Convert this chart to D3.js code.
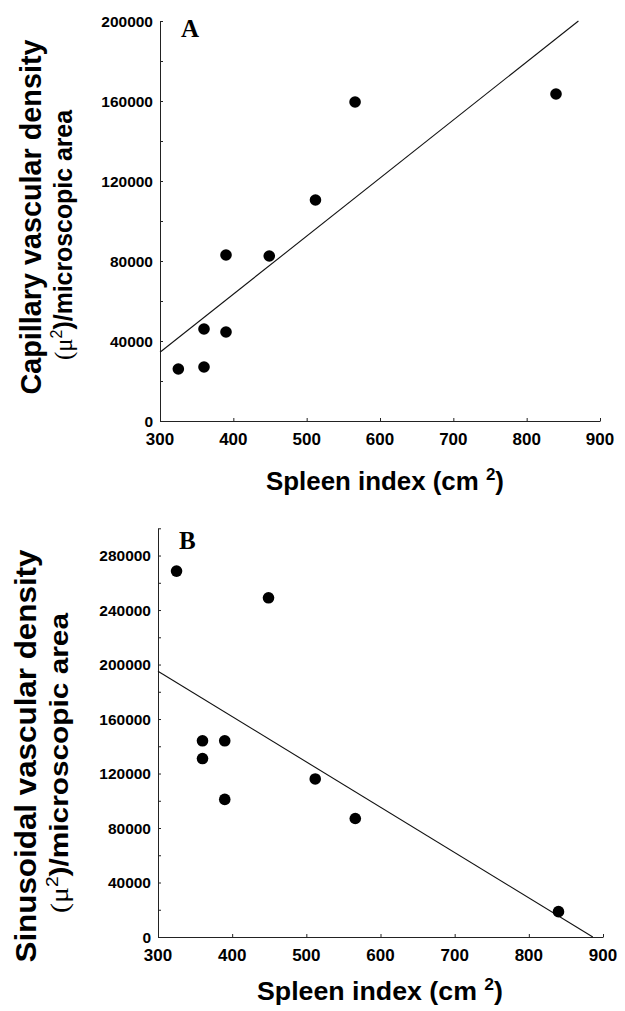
<!DOCTYPE html>
<html>
<head>
<meta charset="utf-8">
<script src="https://cdnjs.cloudflare.com/ajax/libs/d3/7.8.5/d3.min.js"></script>
<style>
  body { margin: 0; background: #fff; }
  svg text { font-family: "Liberation Sans", Arial, sans-serif; font-weight: bold; fill: #000; }
</style>
</head>
<body>
<div id="chart"></div>
<script>
// same nine patients in both panels
var spleenIndex = [325, 360, 360, 390, 390, 449, 512, 566, 840];
var capillaryDensity = [26000, 27000, 46000, 44500, 83000, 82500, 110500, 159500, 163500];
var sinusoidalDensity = [268600, 131000, 144000, 101000, 144000, 249000, 116000, 87000, 18600];

var xTicks = [300, 400, 500, 600, 700, 800, 900];
var capTicks = [0, 40000, 80000, 120000, 160000, 200000];
var sinTicks = [0, 40000, 80000, 120000, 160000, 200000, 240000, 280000];

var W = 625, H = 1011;
var svg = d3.select("#chart").append("svg").attr("width", W).attr("height", H);

function fitLine(xs, ys) {
  var mx = d3.mean(xs), my = d3.mean(ys);
  var sxy = d3.sum(xs, function(d, i){ return (d - mx) * (ys[i] - my); });
  var sxx = d3.sum(xs, function(d){ return (d - mx) * (d - mx); });
  var b = sxy / sxx;
  return { slope: b, icpt: my - b * mx };
}

// clip the fitted line to the plot box
function clipLine(fit, xd, yd) {
  var x0 = xd[0], x1 = xd[1];
  var f = function(x){ return fit.icpt + fit.slope * x; };
  var xa = x0, xb = x1;
  [yd[0], yd[1]].forEach(function(yv){
    var xc = (yv - fit.icpt) / fit.slope;
    if (xc > x0 && xc < x1) {
      if (f(x0) < yd[0] || f(x0) > yd[1]) xa = Math.max(xa, xc); else xb = Math.min(xb, xc);
    }
  });
  return [[xa, f(xa)], [xb, f(xb)]];
}

function panel(opt) {
  var g = svg.append("g");
  var x = d3.scaleLinear().domain([300, 900]).range(opt.xr);
  var y = d3.scaleLinear().domain(opt.yd).range(opt.yr);

  // y axis: line + inward ticks (major labelled, minor between)
  var yAx = d3.axisRight(y).tickValues(d3.range(0, opt.yd[1] + 1, 20000))
    .tickSize(3).tickSizeOuter(0).tickFormat("");
  g.append("g").attr("transform", "translate(" + opt.xr[0] + ",0)").call(yAx)
    .call(function(s){ s.selectAll("path, line").attr("stroke", "#222").attr("stroke-width", 1); });
  g.selectAll(".ylab").data(opt.yTicks).enter().append("text")
    .attr("x", opt.xr[0] - 7).attr("y", function(d){ return y(d); })
    .attr("dy", "0.36em").attr("text-anchor", "end")
    .style("font-size", "15.5px").text(function(d){ return d; });

  // x axis: ticks pointing up into the plot
  var xAx = d3.axisTop(x).tickValues(xTicks).tickSize(3).tickSizeOuter(0).tickFormat("");
  g.append("g").attr("transform", "translate(0," + opt.yr[0] + ")").call(xAx)
    .call(function(s){ s.selectAll("path, line").attr("stroke", "#222").attr("stroke-width", 1); });
  g.selectAll(".xlab").data(xTicks).enter().append("text")
    .attr("x", function(d){ return x(d); }).attr("y", opt.yr[0] + 24)
    .attr("text-anchor", "middle").style("font-size", "17px").text(function(d){ return d; });

  // regression line
  var fit = fitLine(spleenIndex, opt.vals);
  var seg = clipLine(fit, [300, 900], opt.yd);
  g.append("line")
    .attr("x1", x(seg[0][0])).attr("y1", y(seg[0][1]))
    .attr("x2", x(seg[1][0])).attr("y2", y(seg[1][1]))
    .attr("stroke", "#111").attr("stroke-width", 1.1);

  g.selectAll(".pt").data(opt.vals).enter().append("circle")
    .attr("cx", function(d, i){ return x(spleenIndex[i]); })
    .attr("cy", function(d){ return y(d); })
    .attr("r", 5.8).attr("fill", "#000");

  // panel letter
  g.append("text").attr("x", opt.xr[0] + 21).attr("y", opt.yr[1] + opt.letterDy)
    .style("font-family", "'Liberation Serif', 'Times New Roman', serif")
    .style("font-size", "25px").text(opt.letter);

  // x title
  var xt = g.append("text").attr("x", opt.xTitleX).attr("y", opt.yr[0] + opt.xTitleDy)
    .attr("text-anchor", "middle").style("font-size", "26px")
    .attr("textLength", opt.xTitleLen).attr("lengthAdjust", "spacingAndGlyphs");
  xt.append("tspan").text("Spleen index (cm ");
  xt.append("tspan").attr("dy", -10).style("font-size", "17px").text("2");
  xt.append("tspan").attr("dy", 10).text(")");

  // y title, two rotated lines
  g.append("text")
    .attr("transform", "translate(" + opt.t1[0] + "," + opt.t1[1] + ") rotate(-90)")
    .attr("text-anchor", "middle").style("font-size", "29px")
    .attr("textLength", opt.t1[2]).attr("lengthAdjust", "spacingAndGlyphs")
    .text(opt.title);
  var t2 = g.append("text")
    .attr("transform", "translate(" + opt.t2[0] + "," + opt.t2[1] + ") rotate(-90)")
    .attr("text-anchor", "middle").style("font-size", "25px")
    .attr("textLength", opt.t2[2]).attr("lengthAdjust", "spacingAndGlyphs");
  t2.append("tspan").style("font-family", "'Liberation Serif', serif").style("font-weight", "normal").text("(\u03bc");
  t2.append("tspan").attr("dy", -10).style("font-size", "16px").style("font-weight", "normal").text("2");
  t2.append("tspan").attr("dy", 10).text(")/microscopic area");
}

panel({
  vals: capillaryDensity, yd: [0, 200000], yTicks: capTicks,
  xr: [160, 600], yr: [421, 21], letter: "A", letterDy: 16,
  xTitleX: 385, xTitleLen: 238, xTitleDy: 69,
  title: "Capillary vascular density",
  t1: [41, 217, 355], t2: [72, 235, 250]
});

panel({
  vals: sinusoidalDensity, yd: [0, 300000], yTicks: sinTicks,
  xr: [158, 603], yr: [937, 528.3], letter: "B", letterDy: 21,
  xTitleX: 380, xTitleLen: 246, xTitleDy: 63,
  title: "Sinusoidal vascular density",
  t1: [36, 756, 413], t2: [68, 763, 300]
});
</script>
</body>
</html>
